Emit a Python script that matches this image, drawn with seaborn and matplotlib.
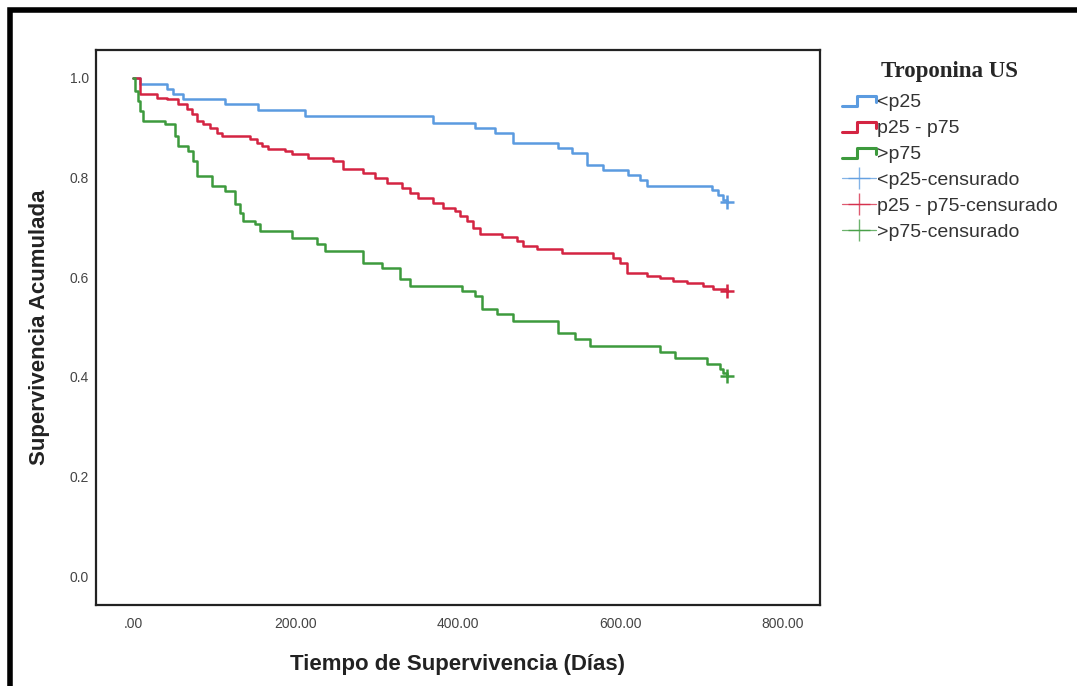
import pandas as pd
import seaborn as sns
import matplotlib.pyplot as plt
from matplotlib.lines import Line2D
from matplotlib.patches import Rectangle
from matplotlib.legend_handler import HandlerBase

# Kaplan-Meier steps (days, cumulative survival)
groups = ["<p25", "p25 - p75", ">p75"]
colors = ["#5b9be0", "#d42442", "#3d9a3d"]

blue_t = [0, 9, 42, 49, 62, 113, 154, 212, 369, 421, 446, 468, 523, 540, 559, 578,
          609, 624, 633, 713, 720, 726, 731]
blue_s = [1.0, 0.988, 0.978, 0.968, 0.958, 0.948, 0.936, 0.924, 0.910, 0.900, 0.890,
          0.869, 0.859, 0.849, 0.825, 0.815, 0.805, 0.795, 0.783, 0.775, 0.765, 0.755, 0.751]

red_t = [0, 9, 30, 42, 55, 66, 73, 79, 86, 95, 103, 110, 144, 153, 159, 166, 187, 196,
         215, 246, 258, 283, 298, 313, 331, 341, 351, 369, 382, 396, 402, 411, 418, 427,
         454, 473, 480, 497, 528, 591, 599, 608, 633, 649, 665, 682, 702, 714, 731]
red_s = [1.0, 0.968, 0.960, 0.958, 0.948, 0.938, 0.928, 0.914, 0.908, 0.900, 0.890, 0.884,
         0.878, 0.869, 0.863, 0.858, 0.853, 0.847, 0.839, 0.833, 0.817, 0.809, 0.799, 0.789,
         0.779, 0.769, 0.759, 0.749, 0.739, 0.733, 0.723, 0.713, 0.699, 0.687, 0.681, 0.673,
         0.663, 0.657, 0.649, 0.639, 0.629, 0.608, 0.602, 0.598, 0.592, 0.588, 0.582, 0.576, 0.572]

green_t = [0, 2, 6, 9, 12, 39, 52, 55, 68, 74, 79, 97, 113, 126, 132, 135, 150, 156, 196,
           226, 236, 283, 306, 329, 341, 405, 421, 430, 448, 468, 523, 544, 562, 649, 667,
           707, 723, 726, 731]
green_s = [1.0, 0.974, 0.954, 0.934, 0.914, 0.908, 0.884, 0.863, 0.853, 0.833, 0.803, 0.783,
           0.773, 0.747, 0.729, 0.713, 0.707, 0.693, 0.679, 0.667, 0.653, 0.629, 0.618, 0.596,
           0.582, 0.572, 0.562, 0.536, 0.526, 0.512, 0.488, 0.476, 0.462, 0.450, 0.438, 0.426,
           0.416, 0.408, 0.402]

x_ticks = [0, 200, 400, 600, 800]
x_tick_labels = [".00", "200.00", "400.00", "600.00", "800.00"]
y_ticks = [0.0, 0.2, 0.4, 0.6, 0.8, 1.0]

df = pd.concat([
    pd.DataFrame({"dias": t, "surv": s, "grupo": g})
    for g, t, s in zip(groups, [blue_t, red_t, green_t], [blue_s, red_s, green_s])
], ignore_index=True)
cens = df.groupby("grupo", sort=False).tail(1)

sns.set_style("white")
plt.rcParams["font.family"] = ["Liberation Sans", "DejaVu Sans"]

fig = plt.figure(figsize=(10.77, 6.86), dpi=100)
ax = fig.add_axes([96 / 1077, 81 / 686, 724 / 1077, 555 / 686])

pal = dict(zip(groups, colors))
sns.lineplot(data=df, x="dias", y="surv", hue="grupo", palette=pal, estimator=None,
             drawstyle="steps-post", linewidth=1.8, legend=False, ax=ax)
sns.scatterplot(data=cens, x="dias", y="surv", hue="grupo", palette=pal, marker="+",
                s=110, linewidth=1.8, legend=False, ax=ax, zorder=3)

ax.set_xlim(-45.5, 845.5)
ax.set_ylim(-0.058, 1.056)
ax.set_xticks(x_ticks)
ax.set_xticklabels(x_tick_labels)
ax.set_yticks(y_ticks)
ax.set_yticklabels([f"{v:.1f}" for v in y_ticks])
ax.tick_params(length=0, labelsize=10, labelcolor="#444444")
ax.tick_params(axis="y", pad=5)
ax.tick_params(axis="x", pad=9)
for sp in ax.spines.values():
    sp.set_color("#222222")
    sp.set_linewidth(1.6)
ax.set_xlabel("Tiempo de Supervivencia (Días)", fontsize=16, fontweight="bold",
              color="#222222", labelpad=16)
ax.set_ylabel("Supervivencia Acumulada", fontsize=16, fontweight="bold",
              color="#222222", labelpad=14)


class StepHandler(HandlerBase):
    def create_artists(self, legend, orig_handle, xdescent, ydescent, width, height,
                       fontsize, trans):
        x0 = -xdescent
        lo, hi = -ydescent + 0.1 * height, -ydescent + 0.8 * height
        xs = [x0, x0 + 0.45 * width, x0 + 0.45 * width, x0 + width, x0 + width]
        ys = [lo, lo, hi, hi, 0.45 * (lo + hi)]
        ln = Line2D(xs, ys, color=orig_handle.get_color(), linewidth=2.2, transform=trans)
        return [ln]


step_handles = [Line2D([], [], color=c) for c in colors]
cens_handles = [Line2D([], [], color=c, linewidth=0.9, alpha=0.75, marker="+",
                       markersize=16, markeredgewidth=1.0) for c in colors]
labels = groups + [g + "-censurado" for g in groups]
handler_map = {h: StepHandler() for h in step_handles}
leg = fig.legend(step_handles + cens_handles, labels, handler_map=handler_map,
                 loc="upper left", bbox_to_anchor=(824 / 1077, 1 - 44 / 686),
                 frameon=False, fontsize=14, handlelength=1.75, handletextpad=0.1,
                 labelspacing=0.43, title="Troponina US",
                 title_fontproperties={"family": "Liberation Serif", "weight": "bold",
                                       "size": 16.5})
leg._legend_box.sep = 8
for t in leg.get_texts():
    t.set_color("#333333")

fig.patches.append(Rectangle((10 / 1077, -0.05), 1.2, 1 - 10 / 686 + 0.05,
                             transform=fig.transFigure, fill=False, edgecolor="black",
                             linewidth=4))

fig.savefig("out.png", dpi=100)
